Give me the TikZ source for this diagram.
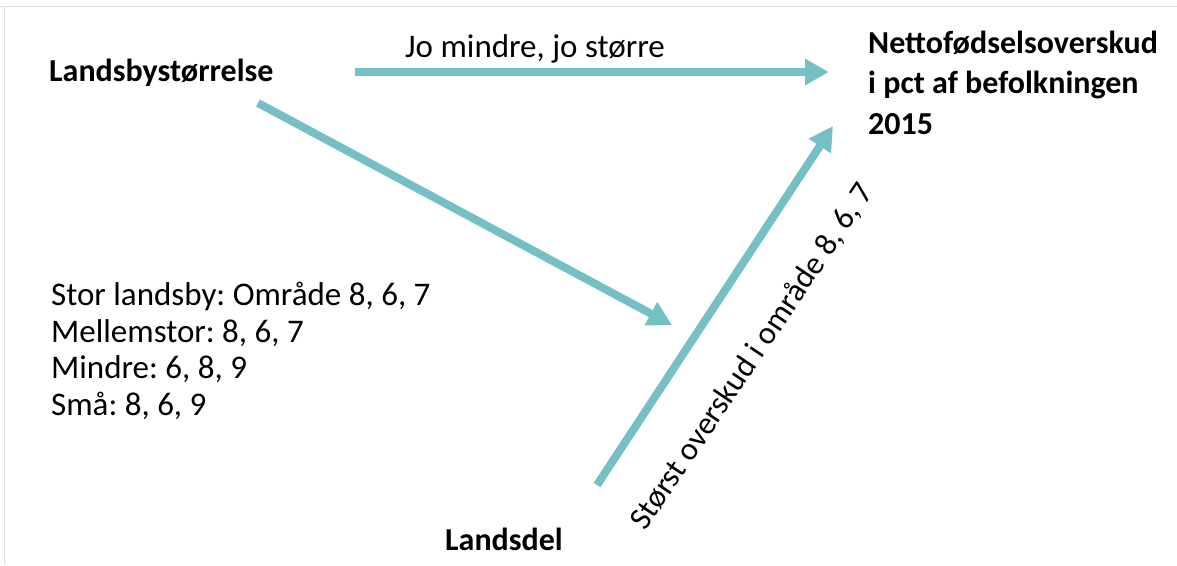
\documentclass[tikz,border=0pt]{standalone}
\usepackage{fontspec}
\setmainfont{Carlito}
\frenchspacing
\usetikzlibrary{arrows.meta}
\definecolor{teal}{RGB}{116,192,196}
\definecolor{framegray}{RGB}{222,222,222}
\tikzset{
  conn/.style={draw=teal, line width=8pt, -{Triangle[length=24pt,width=25pt]}},
  boldlbl/.style={font=\fontsize{32}{40}\selectfont\bfseries, inner sep=0pt, anchor=base west},
  lbl/.style={font=\fontsize{33}{37}\selectfont, inner sep=0pt, anchor=base west},
}
\begin{document}
\begin{tikzpicture}[x=1pt,y=-1pt]
\useasboundingbox (0,0) rectangle (1177,565);
\fill[white] (0,0) rectangle (1177,565);
\draw[framegray, line width=1.5pt] (0,6.5) -- (1177,6.5);
\draw[framegray, line width=1.5pt] (4.5,6.5) -- (4.5,565);
% nodes
\node[boldlbl] (lby) at (49,81) {Landsbystørrelse};
\node[boldlbl] (net1) at (868,53) {Nettofødselsoverskud};
\node[boldlbl] (net2) at (868,93) {i pct af befolkningen};
\node[boldlbl] (net3) at (868,134) {2015};
\node[boldlbl] (ldel) at (445,550) {Landsdel};
\node[lbl] (jo) at (405,57) {Jo mindre, jo større};
\node[lbl] (l1) at (51,305) {Stor landsby: Område 8, 6, 7};
\node[lbl] (l2) at (51,342) {Mellemstor: 8, 6, 7};
\node[lbl] (l3) at (51,378) {Mindre: 6, 8, 9};
\node[lbl] (l4) at (51,415) {Små: 8, 6, 9};
\node[lbl, font=\fontsize{32}{37}\selectfont, anchor=base, rotate=56] (stor) at (760,362) {Størst overskud i område 8, 6, 7};
% connector anchor points
\coordinate (a1s) at (355,72);
\coordinate (a1e) at (829,72);
\coordinate (a2s) at (258,103);
\coordinate (a2e) at (672,325);
\coordinate (a3s) at (597,485);
\coordinate (a3e) at (833,126);
\draw[conn] (a1s) -- (a1e);
\draw[conn] (a2s) -- (a2e);
\draw[conn] (a3s) -- (a3e);
\end{tikzpicture}
\end{document}
